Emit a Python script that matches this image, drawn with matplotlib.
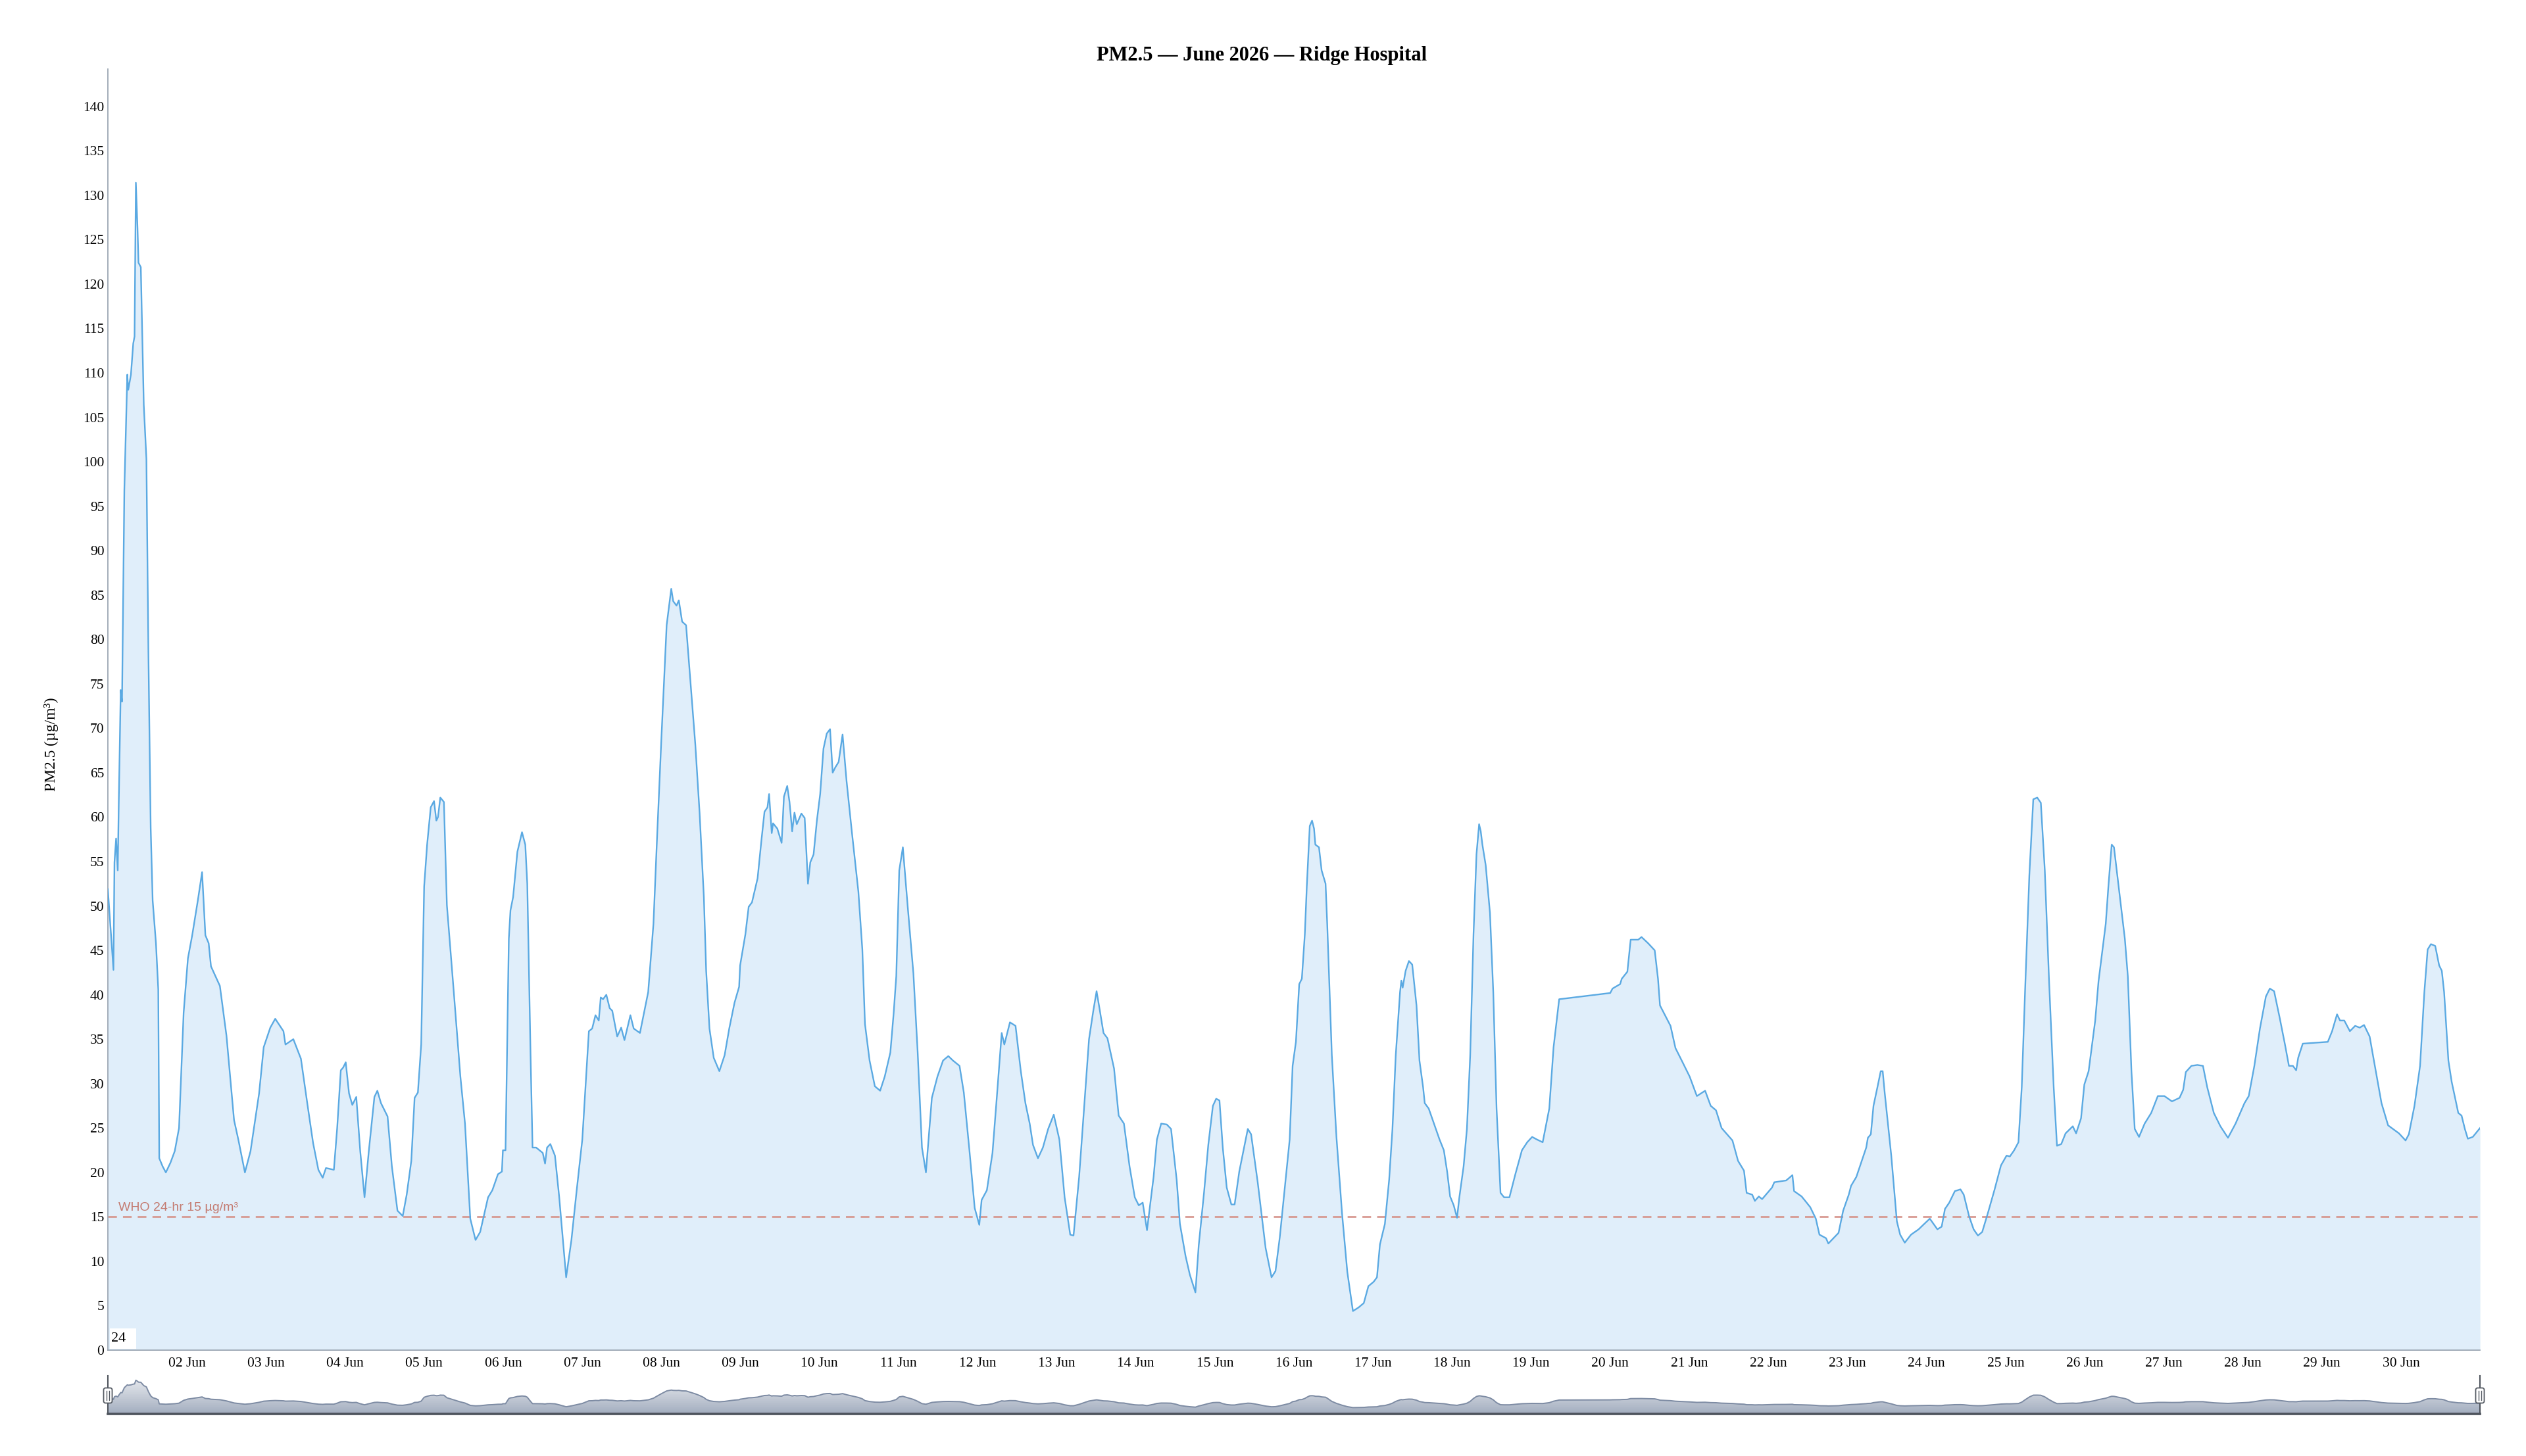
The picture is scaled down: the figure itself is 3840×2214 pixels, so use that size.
#!/usr/bin/python3

# hourly PM2.5 at Ridge Hospital, June 2026, with a range-selector strip below
# output: out.png in the current working directory

from datetime import datetime

import numpy as np
import matplotlib
matplotlib.use('Agg')
import matplotlib.pyplot as plt
import matplotlib.dates as mdates
from matplotlib.colors import LinearSegmentedColormap
from matplotlib.patches import FancyBboxPatch, Rectangle
from matplotlib.lines import Line2D
from matplotlib.transforms import IdentityTransform

hours_w1 = [0.0, 1.7, 2.0, 2.5, 3.0, 3.3, 3.9, 4.3, 5.0, 5.9,
            6.2, 7.0, 7.7, 8.1, 8.5, 9.0, 9.3, 10.0, 10.9, 11.7,
            12.3, 13.0, 13.6, 14.6, 15.3, 15.6, 16.6, 17.6, 19.0, 20.3,
            21.6, 23.0, 24.3, 25.6, 27.3, 28.6, 29.6, 30.6, 31.3, 34.0,
            36.0, 38.3, 39.6, 41.6, 43.3, 45.9, 47.3, 49.3, 50.8, 53.3,
            53.9, 56.3, 58.6, 60.6, 62.3, 63.9, 65.2, 66.2, 68.6, 69.6,
            70.7, 71.4, 72.2, 73.2, 74.2, 75.4, 76.6, 77.9, 79.2, 80.9,
            81.8, 82.9, 84.9, 86.2, 87.9, 89.5]
pm25_w1 = [51.9, 42.8, 54.9, 57.6, 54.0, 61.4, 74.3, 73.0, 96.8, 109.8,
           108.1, 109.8, 113.3, 114.1, 131.4, 126.3, 122.4, 121.9, 106.4, 100.3,
           78.7, 58.8, 50.6, 45.8, 40.6, 21.6, 20.7, 20.0, 21.1, 22.4,
           25.0, 38.0, 44.1, 46.7, 50.6, 53.8, 46.7, 45.8, 43.2, 41.0,
           35.4, 25.9, 23.7, 20.0, 22.4, 28.9, 34.1, 36.3, 37.3, 35.9,
           34.4, 35.0, 32.8, 27.6, 23.3, 20.3, 19.4, 20.5, 20.3, 25.0,
           31.5, 31.8, 32.4, 28.9, 27.6, 28.5, 22.4, 17.2, 22.4, 28.5,
           29.2, 27.8, 26.3, 20.7, 15.7, 15.1]

hours_w2 = [90.7, 92.1, 93.1, 94.1, 95.1, 95.7, 96.0, 96.9, 98.0, 99.0,
            99.7, 100.2, 100.9, 102.0, 102.9, 105.0, 107.0, 108.4, 110.0, 111.6,
            113.0, 115.4, 116.7, 118.4, 119.6, 119.9, 120.7, 121.7, 122.2, 123.0,
            124.3, 125.7, 126.7, 127.3, 128.3, 128.9, 130.0, 131.0, 132.0, 132.7,
            133.3, 134.3, 135.7, 137.0, 139.1, 140.7, 142.3, 144.0, 146.0, 147.0,
            148.0, 149.0, 149.6, 150.3, 151.3, 152.3, 153.1, 154.6, 155.8, 156.8,
            158.6, 159.6, 161.5, 164.0, 165.6, 166.6, 168.0, 169.6, 171.0, 171.6,
            172.6, 173.3, 174.3, 175.5, 178.3, 179.6]
pm25_w2 = [17.5, 21.3, 28.4, 29.0, 34.4, 46.3, 52.2, 56.9, 61.1, 61.8,
           59.6, 60.0, 62.2, 61.7, 50.1, 40.3, 30.8, 25.5, 14.8, 12.4,
           13.3, 17.2, 18.0, 19.8, 20.1, 22.5, 22.5, 46.3, 49.5, 51.0,
           56.1, 58.3, 56.9, 52.5, 33.2, 22.8, 22.8, 22.5, 22.2, 21.0,
           22.8, 23.2, 21.9, 17.2, 8.2, 12.4, 18.0, 23.7, 35.9, 36.2,
           37.7, 37.1, 39.7, 39.5, 40.0, 38.5, 38.2, 35.3, 36.3, 34.9,
           37.7, 36.2, 35.7, 40.3, 48.0, 56.9, 68.8, 81.6, 85.7, 84.3,
           83.8, 84.4, 82.0, 81.6, 68.2, 60.5]

hours_w3 = [180.9, 181.6, 182.6, 183.9, 185.6, 187.2, 188.6, 190.2, 191.6, 191.9,
            193.5, 194.5, 195.5, 197.2, 198.4, 199.3, 200.2, 200.7, 201.5, 201.9,
            203.2, 204.5, 205.2, 206.2, 206.9, 207.7, 208.4, 209.1, 210.5, 211.5,
            212.5, 213.2, 214.2, 215.2, 216.2, 217.2, 218.2, 219.2, 220.0, 220.8,
            221.8, 223.0, 224.2, 225.8, 227.8, 229.0, 229.8, 231.2, 232.8, 234.4,
            235.8, 237.5, 238.5, 239.3, 240.2, 241.3, 242.8, 244.5, 245.8, 247.1,
            248.3, 250.1, 251.8, 253.5, 255.1, 256.5, 258.5, 259.8, 261.5, 263.1,
            264.5, 265.2, 266.8, 268.5, 269.8]
pm25_w3 = [51.0, 42.7, 36.2, 32.9, 31.4, 33.2, 36.2, 39.1, 40.9, 43.3,
           46.8, 49.9, 50.4, 53.1, 57.5, 60.6, 61.1, 62.6, 58.2, 59.3,
           58.7, 57.1, 62.3, 63.5, 61.7, 58.4, 60.5, 59.2, 60.4, 59.9,
           52.5, 54.9, 55.8, 59.6, 62.6, 67.7, 69.4, 69.9, 65.0, 65.6,
           66.2, 69.3, 64.1, 58.4, 51.6, 45.1, 36.7, 32.6, 29.7, 29.2,
           30.8, 33.5, 37.9, 42.1, 54.0, 56.6, 49.8, 42.4, 33.5, 22.8,
           20.0, 28.4, 30.8, 32.6, 33.1, 32.6, 32.0, 29.0, 22.5, 16.0,
           14.1, 16.9, 18.0, 22.2, 28.4]

hours_w4 = [271.3, 272.1, 273.8, 275.5, 277.1, 278.5, 279.8, 280.8, 282.3, 283.8,
            285.4, 287.1, 288.8, 290.4, 292.1, 293.1, 294.8, 296.4, 297.8, 299.1,
            300.1, 301.1, 302.2, 303.4, 305.4, 306.8, 308.4, 310.1, 311.7, 312.9,
            314.1, 315.4, 317.4, 318.4, 319.7, 321.4, 322.7, 324.4, 325.4, 327.1,
            328.4, 330.1, 331.1, 332.7, 334.0, 335.4, 336.4, 337.4, 338.4, 339.6,
            341.0, 342.0, 343.4, 344.7, 346.0, 347.0, 349.0, 351.4, 353.2, 354.4,
            355.7, 357.4, 358.7]
pm25_w4 = [35.7, 34.4, 36.9, 36.5, 31.4, 27.8, 25.5, 23.1, 21.6, 22.8,
           24.9, 26.5, 23.7, 17.2, 13.0, 12.9, 19.5, 27.8, 35.0, 38.2,
           40.4, 38.2, 35.7, 35.1, 31.7, 26.4, 25.5, 20.7, 17.2, 16.3,
           16.6, 13.5, 19.5, 23.7, 25.5, 25.4, 24.9, 19.2, 14.2, 10.6,
           8.5, 6.5, 11.8, 17.7, 23.1, 27.5, 28.3, 28.1, 22.8, 18.3,
           16.4, 16.4, 20.1, 22.5, 24.9, 24.3, 18.9, 11.5, 8.2, 8.9,
           12.7, 18.9, 23.7]

hours_w5 = [359.6, 360.6, 361.6, 362.4, 363.3, 363.9, 364.8, 365.5, 366.1, 366.5,
            367.6, 368.4, 369.6, 370.1, 371.5, 372.9, 374.6, 376.2, 377.9, 379.6,
            381.2, 382.6, 384.2, 385.2, 386.1, 387.6, 388.9, 389.9, 390.9, 392.2,
            392.6, 393.0, 393.9, 394.9, 395.9, 397.2, 398.1, 399.2, 399.7, 400.9,
            402.5, 404.2, 405.5, 406.5, 407.4, 408.5, 409.5, 410.2, 411.5, 412.5,
            413.5, 414.5, 415.4, 416.2, 416.7, 417.2, 418.2, 419.5, 420.5, 421.5,
            422.7, 423.8, 425.4, 427.2, 429.2, 430.8, 432.3, 433.8, 435.5, 437.5,
            438.8, 440.5]
pm25_w5 = [32.0, 34.7, 41.2, 41.8, 46.8, 52.2, 59.0, 59.6, 58.7, 56.9,
           56.6, 54.0, 52.5, 48.0, 33.2, 24.0, 15.4, 8.8, 4.4, 4.8,
           5.3, 7.2, 7.7, 8.2, 11.9, 14.2, 19.2, 24.9, 33.2, 40.3,
           41.6, 40.8, 42.7, 43.8, 43.4, 38.8, 32.6, 29.6, 27.8, 27.2,
           25.5, 23.7, 22.5, 20.1, 17.3, 16.3, 14.9, 17.2, 20.7, 24.9,
           33.2, 46.8, 55.8, 59.2, 58.4, 56.9, 54.6, 49.2, 40.3, 27.2,
           17.7, 17.2, 17.2, 19.8, 22.5, 23.4, 24.0, 23.7, 23.4, 27.2,
           34.1, 39.5]

hours_w6 = [456.0, 456.7, 459.0, 459.5, 461.2, 462.2, 464.5, 465.5, 467.5, 469.5,
            470.5, 471.1, 472.5, 474.3, 475.8, 478.1, 480.1, 482.3, 484.8, 486.5,
            488.1, 489.8, 493.1, 494.8, 496.6, 497.4, 499.1, 499.9, 501.1, 502.1,
            505.1, 505.8, 509.4, 511.3, 511.8, 514.1, 516.7, 518.4, 519.5, 521.5,
            522.2, 525.3, 526.7, 528.4, 529.1, 530.7, 533.7, 534.2, 535.1, 535.9,
            537.1, 538.1, 538.7]
pm25_w6 = [40.2, 40.7, 41.2, 41.8, 42.6, 46.2, 46.2, 46.5, 45.8, 45.0,
           41.8, 38.8, 37.8, 36.5, 34.0, 32.3, 30.8, 28.6, 29.2, 27.5,
           27.0, 25.0, 23.6, 21.3, 20.2, 17.7, 17.5, 16.8, 17.3, 17.0,
           18.3, 18.9, 19.1, 19.7, 17.9, 17.3, 16.1, 14.8, 13.0, 12.6,
           12.0, 13.2, 15.7, 17.5, 18.5, 19.5, 22.8, 23.9, 24.3, 27.5,
           29.6, 31.4, 31.4]

hours_w7 = [539.3, 541.3, 543.0, 544.0, 545.4, 547.3, 549.6, 551.0, 553.0, 555.3,
            556.6, 557.6, 558.9, 560.6, 562.3, 563.3, 564.9, 566.3, 567.6, 568.9,
            570.6, 572.6, 574.6, 576.3, 577.3, 578.6, 579.9, 580.9, 581.9, 583.2,
            584.4, 585.6, 586.7, 587.9, 589.2, 590.6, 591.6, 592.9, 594.2, 596.4,
            597.4, 598.9, 599.9, 601.2, 603.2, 604.2, 606.4, 607.2, 608.2, 608.9,
            610.5, 612.2, 613.1, 614.2, 615.2, 616.5, 618.2, 620.2, 622.2, 624.2,
            626.5, 628.8]
pm25_w7 = [29.0, 21.9, 14.5, 13.0, 12.1, 13.0, 13.6, 14.1, 14.8, 13.6,
           13.9, 15.9, 16.6, 17.9, 18.1, 17.5, 15.1, 13.6, 12.9, 13.3,
           15.4, 18.0, 20.8, 21.9, 21.8, 22.5, 23.4, 29.6, 40.3, 53.4,
           62.0, 62.2, 61.6, 54.0, 41.5, 29.6, 23.0, 23.2, 24.4, 25.2,
           24.4, 26.1, 29.9, 31.4, 37.1, 41.5, 48.0, 52.2, 56.9, 56.6,
           51.6, 46.3, 42.1, 31.4, 24.9, 24.0, 25.5, 26.7, 28.6, 28.6,
           28.0, 28.4]

hours_w8 = [629.9, 630.7, 632.4, 634.2, 635.9, 637.2, 639.2, 641.2, 643.5, 645.8,
            648.5, 649.8, 651.5, 653.2, 655.0, 656.2, 657.5, 659.2, 660.8, 662.0,
            663.2, 664.2, 664.8, 666.2, 673.8, 675.1, 676.6, 677.5, 678.8, 680.5,
            682.1, 683.5, 684.8, 686.5, 687.5, 690.1, 692.1, 695.4, 697.4, 698.4,
            700.1, 701.8, 703.1, 704.1, 705.1, 706.4, 707.6, 708.4, 709.1, 710.4,
            711.4, 713.4, 714.4, 715.4, 716.3, 717.8, 720.0]
pm25_w8 = [29.3, 31.3, 32.0, 32.1, 32.0, 29.6, 26.7, 25.2, 23.9, 25.5,
           27.8, 28.6, 32.0, 36.2, 39.8, 40.7, 40.4, 37.4, 34.4, 32.0,
           32.0, 31.5, 32.9, 34.5, 34.7, 35.9, 37.8, 37.1, 37.1, 35.9,
           36.5, 36.3, 36.6, 35.3, 33.2, 27.8, 25.3, 24.4, 23.6, 24.3,
           27.5, 32.0, 40.3, 45.1, 45.7, 45.5, 43.3, 42.7, 40.3, 32.6,
           30.2, 26.7, 26.4, 24.9, 23.8, 24.0, 25.0]

WHO_LIMIT = 15
WHO_LABEL = 'WHO 24-hr 15 µg/m³'
ROLL_PERIOD = '24'
TITLE = 'PM2.5 — June 2026 — Ridge Hospital'
YLABEL = 'PM2.5 (µg/m³)'


plt.rcParams['font.family'] = ['Liberation Serif', 'DejaVu Serif']

hrs = np.array(hours_w1 + hours_w2 + hours_w3 + hours_w4 +
               hours_w5 + hours_w6 + hours_w7 + hours_w8)
pm = np.array(pm25_w1 + pm25_w2 + pm25_w3 + pm25_w4 +
              pm25_w5 + pm25_w6 + pm25_w7 + pm25_w8)

t0 = mdates.date2num(datetime(2026, 6, 1))
t1 = t0 + 30
x = t0 + hrs / 24.0

fig = plt.figure(figsize=(38.4, 22.14), dpi=100)

# main plot
ax = fig.add_axes([0.0427, 0.0727, 0.9391, 0.8799])
ax.fill_between(x, 0, pm, color='#e0eefa', lw=0, zorder=1)
ax.plot(x, pm, color='#5aa9e2', lw=1.7, zorder=3)
ax.axhline(WHO_LIMIT, color='#d6958c', lw=1.9, ls=(0, (5, 3.5)), zorder=2)
ax.annotate(WHO_LABEL, xy=(0.0044, WHO_LIMIT), xycoords=('axes fraction', 'data'),
            xytext=(0, 4), textcoords='offset points', fontsize=14,
            color='#c47b71', family=['Liberation Sans', 'DejaVu Sans'],
            va='bottom', ha='left', zorder=4)

ax.set_xlim(t0, t1)
ax.set_ylim(0, 144.2)
ax.set_yticks(np.arange(0, 141, 5))
ax.xaxis.set_major_locator(mdates.DayLocator(bymonthday=range(2, 31)))
ax.xaxis.set_major_formatter(mdates.DateFormatter('%d %b'))
ax.tick_params(axis='x', length=0, labelsize=15.5, pad=8)
ax.tick_params(axis='y', length=0, labelsize=15.5, pad=4)
for s in ['top', 'right']:
    ax.spines[s].set_visible(False)
for s in ['left', 'bottom']:
    ax.spines[s].set_color('#9ba6b2')
    ax.spines[s].set_linewidth(1.3)

# rolling-period box in the bottom-left corner
ax.add_patch(Rectangle((0.0008, 0.001), 0.0111, 0.016, transform=ax.transAxes,
                       facecolor='white', edgecolor='none', zorder=5))
ax.text(0.0014, 0.0088, ROLL_PERIOD, transform=ax.transAxes, fontsize=16,
        va='center', ha='left', zorder=6)

fig.text(0.4995, 0.962, TITLE, ha='center', va='center', fontsize=22, fontweight='bold')
fig.text(0.0203, 0.489, YLABEL, ha='center', va='center', rotation=90, fontsize=17)

# range selector strip
nav = fig.add_axes([0.0427, 0.0289, 0.9391, 0.0262])
poly = nav.fill_between(x, -25, pm, facecolor='none', edgecolor='none')
grad = np.linspace(0, 1, 256).reshape(-1, 1)
cmap = LinearSegmentedColormap.from_list('nav', ['#eceef2', '#c9cfd9', '#a2adbf'])
im = nav.imshow(grad, extent=[t0, t1, -25, 152], aspect='auto', cmap=cmap,
                origin='upper', zorder=1)
im.set_clip_path(poly.get_paths()[0], transform=nav.transData)
nav.plot(x, pm, color='#7d8ba3', lw=1.4, zorder=2)
nav.set_xlim(t0, t1)
nav.set_ylim(-25, 152)
nav.set_xticks([])
nav.set_yticks([])
nav.spines['top'].set_visible(False)
nav.spines['bottom'].set_color('#4d535c')
nav.spines['bottom'].set_linewidth(2.6)
for s in ['left', 'right']:
    nav.spines[s].set_color('#4d535c')
    nav.spines[s].set_linewidth(1.5)

# grab handles at both ends (figure pixels)
for cx in [164, 3770]:
    cy = 2214 - 2122
    fig.patches.append(FancyBboxPatch((cx - 6.5, cy - 11.5), 13, 23,
                                      boxstyle='round,pad=0,rounding_size=3',
                                      transform=IdentityTransform(), figure=fig,
                                      facecolor='white', edgecolor='#555b63', lw=1.3))
    for dx in [-2, 2]:
        fig.lines.append(Line2D([cx + dx, cx + dx], [cy - 7, cy + 7],
                                transform=IdentityTransform(), figure=fig,
                                color='#555b63', lw=1.0))

fig.savefig('out.png', dpi=100)
